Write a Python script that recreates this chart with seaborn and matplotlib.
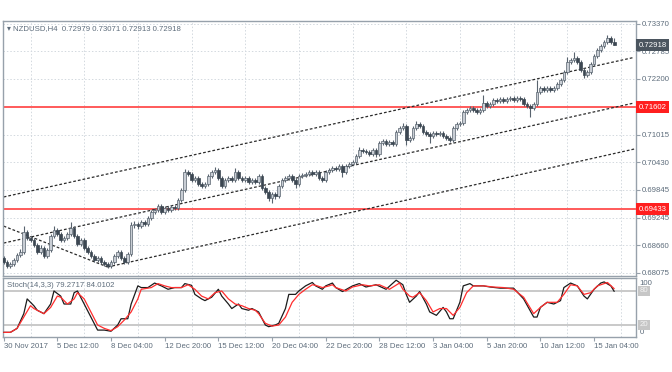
"""NZDUSD H4 candlestick chart with channel lines, key levels and Stoch(14,3,3)."""
import matplotlib
matplotlib.use("Agg")
import matplotlib.pyplot as plt
import matplotlib.transforms as mtransforms
import numpy as np
import pandas as pd
import seaborn as sns

# ---- candle data (H4 bars) ----
OPENS = [
    0.6839, 0.6831, 0.6822, 0.6826, 0.6835, 0.6846, 0.6852, 0.6895, 0.6882, 0.6877,
    0.6867, 0.6852, 0.6861, 0.6844, 0.6856, 0.6886, 0.6899, 0.6890, 0.6877, 0.6882,
    0.6890, 0.6903, 0.6886, 0.6869, 0.6877, 0.6861, 0.6852, 0.6844, 0.6835, 0.6839,
    0.6831, 0.6826, 0.6822, 0.6831, 0.6844, 0.6852, 0.6839, 0.6831, 0.6848, 0.6909,
    0.6912, 0.6907, 0.6916, 0.6912, 0.6924, 0.6937, 0.6941, 0.6950, 0.6937, 0.6946,
    0.6941, 0.6948, 0.6946, 0.6963, 0.6984, 0.7022, 0.7018, 0.7005, 0.7009, 0.6997,
    0.6992, 0.6997, 0.7014, 0.7022, 0.7026, 0.7009, 0.6992, 0.7005, 0.7009, 0.7005,
    0.7022, 0.7009, 0.7005, 0.7009, 0.7001, 0.7005, 0.7001, 0.7014, 0.6988, 0.6980,
    0.6967, 0.6975, 0.6971, 0.6992, 0.7005, 0.7009, 0.7014, 0.7005, 0.6997, 0.7014,
    0.7016, 0.7018, 0.7022, 0.7018, 0.7022, 0.7009, 0.7005, 0.7022, 0.7026, 0.7031,
    0.7029, 0.7035, 0.7022, 0.7035, 0.7040, 0.7044, 0.7056, 0.7069, 0.7067, 0.7065,
    0.7060, 0.7069, 0.7060, 0.7084, 0.7088, 0.7082, 0.7086, 0.7082, 0.7107, 0.7116,
    0.7120, 0.7090, 0.7094, 0.7116, 0.7124, 0.7120, 0.7107, 0.7103, 0.7098, 0.7105,
    0.7103, 0.7105, 0.7098, 0.7094, 0.7090, 0.7116, 0.7124, 0.7126, 0.7150, 0.7154,
    0.7158, 0.7154, 0.7150, 0.7154, 0.7169, 0.7163, 0.7167, 0.7175, 0.7173, 0.7177,
    0.7173, 0.7177, 0.7180, 0.7175, 0.7180, 0.7177, 0.7167, 0.7163, 0.7158, 0.7167,
    0.7192, 0.7201, 0.7197, 0.7201, 0.7197, 0.7201, 0.7209, 0.7218, 0.7235, 0.7256,
    0.7260, 0.7265, 0.7256, 0.7239, 0.7228, 0.7235, 0.7252, 0.7269, 0.7282, 0.7290,
    0.7299, 0.7307, 0.72979,
]
HIGHS = [
    0.6843, 0.6835, 0.6830, 0.6839, 0.6850, 0.6858, 0.6907, 0.6899, 0.6886, 0.6881,
    0.6871, 0.6866, 0.6865, 0.6860, 0.6890, 0.6907, 0.6903, 0.6894, 0.6886, 0.6894,
    0.6916, 0.6907, 0.6890, 0.6882, 0.6881, 0.6865, 0.6856, 0.6848, 0.6843, 0.6843,
    0.6835, 0.6830, 0.6835, 0.6848, 0.6856, 0.6856, 0.6843, 0.6852, 0.6916, 0.6918,
    0.6916, 0.6920, 0.6920, 0.6928, 0.6941, 0.6946, 0.6954, 0.6954, 0.6950, 0.6950,
    0.6952, 0.6952, 0.6967, 0.6988, 0.7029, 0.7026, 0.7022, 0.7014, 0.7013, 0.7001,
    0.7001, 0.7018, 0.7026, 0.7033, 0.7030, 0.7013, 0.7009, 0.7013, 0.7013, 0.7031,
    0.7026, 0.7013, 0.7013, 0.7013, 0.7009, 0.7009, 0.7018, 0.7018, 0.6992, 0.6984,
    0.6979, 0.6979, 0.6996, 0.7009, 0.7013, 0.7018, 0.7018, 0.7009, 0.7018, 0.7020,
    0.7022, 0.7026, 0.7026, 0.7026, 0.7026, 0.7013, 0.7026, 0.7030, 0.7035, 0.7035,
    0.7039, 0.7039, 0.7039, 0.7044, 0.7048, 0.7060, 0.7075, 0.7073, 0.7071, 0.7069,
    0.7073, 0.7073, 0.7088, 0.7092, 0.7092, 0.7090, 0.7090, 0.7111, 0.7120, 0.7126,
    0.7124, 0.7098, 0.7120, 0.7130, 0.7128, 0.7124, 0.7111, 0.7107, 0.7109, 0.7109,
    0.7109, 0.7109, 0.7102, 0.7098, 0.7120, 0.7128, 0.7130, 0.7154, 0.7158, 0.7162,
    0.7162, 0.7158, 0.7158, 0.7186, 0.7173, 0.7171, 0.7179, 0.7179, 0.7181, 0.7181,
    0.7181, 0.7184, 0.7184, 0.7184, 0.7184, 0.7181, 0.7171, 0.7167, 0.7171, 0.7218,
    0.7205, 0.7205, 0.7205, 0.7205, 0.7205, 0.7213, 0.7222, 0.7239, 0.7267, 0.7265,
    0.7277, 0.7269, 0.7260, 0.7243, 0.7239, 0.7256, 0.7273, 0.7286, 0.7294, 0.7303,
    0.7314, 0.7311, 0.73071,
]
LOWS = [
    0.6827, 0.6818, 0.6818, 0.6822, 0.6831, 0.6842, 0.6848, 0.6878, 0.6873, 0.6863,
    0.6848, 0.6848, 0.6839, 0.6840, 0.6852, 0.6882, 0.6886, 0.6873, 0.6873, 0.6878,
    0.6886, 0.6882, 0.6865, 0.6865, 0.6857, 0.6848, 0.6840, 0.6831, 0.6831, 0.6827,
    0.6822, 0.6818, 0.6818, 0.6827, 0.6840, 0.6835, 0.6827, 0.6827, 0.6844, 0.6903,
    0.6901, 0.6903, 0.6907, 0.6908, 0.6920, 0.6933, 0.6937, 0.6933, 0.6933, 0.6937,
    0.6937, 0.6941, 0.6942, 0.6959, 0.6980, 0.7014, 0.7001, 0.7001, 0.6992, 0.6988,
    0.6988, 0.6993, 0.7010, 0.7018, 0.7005, 0.6988, 0.6988, 0.7001, 0.7001, 0.7001,
    0.7005, 0.7001, 0.7001, 0.6997, 0.6997, 0.6997, 0.6997, 0.6984, 0.6975, 0.6960,
    0.6956, 0.6965, 0.6967, 0.6988, 0.7001, 0.7005, 0.7001, 0.6988, 0.6993, 0.7010,
    0.7012, 0.7014, 0.7014, 0.7014, 0.7005, 0.7001, 0.7001, 0.7018, 0.7022, 0.7025,
    0.7025, 0.7012, 0.7018, 0.7031, 0.7036, 0.7040, 0.7052, 0.7063, 0.7061, 0.7056,
    0.7056, 0.7054, 0.7056, 0.7080, 0.7078, 0.7078, 0.7078, 0.7078, 0.7103, 0.7112,
    0.7079, 0.7086, 0.7090, 0.7112, 0.7116, 0.7103, 0.7099, 0.7084, 0.7094, 0.7099,
    0.7099, 0.7094, 0.7090, 0.7086, 0.7086, 0.7112, 0.7120, 0.7122, 0.7146, 0.7150,
    0.7150, 0.7146, 0.7146, 0.7150, 0.7159, 0.7159, 0.7163, 0.7169, 0.7169, 0.7169,
    0.7169, 0.7173, 0.7171, 0.7171, 0.7173, 0.7163, 0.7159, 0.7139, 0.7154, 0.7163,
    0.7188, 0.7193, 0.7193, 0.7193, 0.7193, 0.7197, 0.7205, 0.7214, 0.7231, 0.7252,
    0.7256, 0.7252, 0.7235, 0.7222, 0.7224, 0.7231, 0.7248, 0.7265, 0.7278, 0.7286,
    0.7295, 0.7294, 0.72913,
]
CLOSES = [
    0.6831, 0.6822, 0.6826, 0.6835, 0.6846, 0.6852, 0.6895, 0.6882, 0.6877, 0.6867,
    0.6852, 0.6861, 0.6844, 0.6856, 0.6886, 0.6899, 0.6890, 0.6877, 0.6882, 0.6890,
    0.6903, 0.6886, 0.6869, 0.6877, 0.6861, 0.6852, 0.6844, 0.6835, 0.6839, 0.6831,
    0.6826, 0.6822, 0.6831, 0.6844, 0.6852, 0.6839, 0.6831, 0.6848, 0.6909, 0.6912,
    0.6907, 0.6916, 0.6912, 0.6924, 0.6937, 0.6941, 0.6950, 0.6937, 0.6946, 0.6941,
    0.6948, 0.6946, 0.6963, 0.6984, 0.7022, 0.7018, 0.7005, 0.7009, 0.6997, 0.6992,
    0.6997, 0.7014, 0.7022, 0.7026, 0.7009, 0.6992, 0.7005, 0.7009, 0.7005, 0.7022,
    0.7009, 0.7005, 0.7009, 0.7001, 0.7005, 0.7001, 0.7014, 0.6988, 0.6980, 0.6967,
    0.6975, 0.6971, 0.6992, 0.7005, 0.7009, 0.7014, 0.7005, 0.6997, 0.7014, 0.7016,
    0.7018, 0.7022, 0.7018, 0.7022, 0.7009, 0.7005, 0.7022, 0.7026, 0.7031, 0.7029,
    0.7035, 0.7022, 0.7035, 0.7040, 0.7044, 0.7056, 0.7069, 0.7067, 0.7065, 0.7060,
    0.7069, 0.7060, 0.7084, 0.7088, 0.7082, 0.7086, 0.7082, 0.7107, 0.7116, 0.7120,
    0.7090, 0.7094, 0.7116, 0.7124, 0.7120, 0.7107, 0.7103, 0.7098, 0.7105, 0.7103,
    0.7105, 0.7098, 0.7094, 0.7090, 0.7116, 0.7124, 0.7126, 0.7150, 0.7154, 0.7158,
    0.7154, 0.7150, 0.7154, 0.7169, 0.7163, 0.7167, 0.7175, 0.7173, 0.7177, 0.7173,
    0.7177, 0.7180, 0.7175, 0.7180, 0.7177, 0.7167, 0.7163, 0.7158, 0.7167, 0.7192,
    0.7201, 0.7197, 0.7201, 0.7197, 0.7201, 0.7209, 0.7218, 0.7235, 0.7256, 0.7260,
    0.7265, 0.7256, 0.7239, 0.7228, 0.7235, 0.7252, 0.7269, 0.7282, 0.7290, 0.7299,
    0.7307, 0.7298, 0.72918,
]

# ---- stochastic (14,3,3): %K (black) and %D (red) ----
K_BARS = [0, 2, 4, 6, 7, 9, 10, 12, 14, 15, 17, 18, 20, 21, 22, 24, 26, 28, 30, 32,
          34, 35, 37, 38, 40, 41, 43, 45, 47, 49, 51, 53, 54, 56, 57, 59, 60, 62, 64, 65,
          67, 68, 70, 71, 73, 74, 76, 78, 79, 81, 82, 84, 85, 87, 88, 90, 92, 93, 95, 96,
          98, 99, 101, 104, 106, 108, 111, 114, 117, 119, 120, 121, 123, 124, 126, 127,
          129, 131, 132, 133, 134, 136, 137, 139, 140, 143, 145, 148, 152, 155, 158, 159,
          160, 162, 164, 166, 167, 169, 171, 173, 174, 176, 178, 179, 181, 182]
K_VALUES = [7, 7, 14, 40, 66, 54, 46, 40, 57, 80, 71, 57, 57, 77, 80, 57, 34, 11, 11, 9,
            20, 31, 31, 57, 89, 86, 86, 94, 89, 83, 86, 86, 93, 90, 74, 66, 63, 69, 83, 71,
            57, 49, 57, 49, 46, 49, 43, 20, 17, 20, 23, 49, 74, 74, 80, 89, 95, 89, 83, 89,
            94, 86, 79, 89, 93, 87, 91, 83, 99, 91, 74, 60, 71, 79, 57, 43,
            37, 51, 43, 31, 31, 60, 89, 93, 89, 89, 87, 85, 85, 66, 34, 34,
            51, 60, 57, 63, 86, 94, 89, 71, 66, 83, 94, 96, 89, 79.2717]
D_BARS = [0, 2, 4, 6, 8, 9, 12, 14, 16, 17, 19, 21, 22, 24, 26, 28, 30, 32, 34, 36,
          38, 40, 41, 44, 46, 48, 50, 53, 55, 57, 59, 61, 63, 65, 67, 69, 71, 73, 75, 76,
          78, 80, 82, 84, 86, 88, 90, 92, 93, 95, 97, 98, 99, 102, 104, 107, 109, 112, 115,
          118, 119, 121, 122, 124, 126, 128, 130, 132, 134, 136, 138, 140, 143, 146, 149,
          152, 155, 158, 160, 162, 165, 167, 169, 171, 173, 175, 177, 180, 182]
D_VALUES = [7, 7, 14, 34, 54, 49, 40, 51, 71, 69, 57, 66, 77, 66, 43, 20, 14, 10, 17, 29,
            43, 66, 83, 86, 93, 89, 86, 86, 91, 83, 71, 66, 77, 80, 66, 57, 54, 49, 46, 40,
            23, 18, 20, 34, 60, 74, 83, 91, 90, 86, 89, 91, 86, 80, 87, 91, 89, 91, 83,
            94, 83, 71, 69, 77, 63, 43, 49, 49, 37, 51, 77, 89, 89, 87, 86,
            83, 69, 40, 51, 60, 60, 74, 91, 89, 74, 77, 89, 95, 84.0102]

# ---- axis labels and drawn objects ----
TIME_LABEL_BARS = [0, 16, 32, 48, 64, 80, 96, 112, 128, 144, 160, 176]
TIME_LABELS = ["30 Nov 2017", "5 Dec 12:00", "8 Dec 04:00", "12 Dec 20:00",
               "15 Dec 12:00", "20 Dec 04:00", "22 Dec 20:00", "28 Dec 12:00",
               "3 Jan 04:00", "5 Jan 20:00", "10 Jan 12:00", "15 Jan 04:00"]
PRICE_TICKS = [0.73370, 0.72785, 0.72200, 0.71015, 0.70430, 0.69845,
               0.69245, 0.68660, 0.68075]
KEY_LEVELS = [0.71602, 0.69433]
LAST_PRICE = 0.72918

# trend / channel lines as (bars, prices) anchor pairs
CHANNEL_UPPER = ([0, 188], [0.6969, 0.7266])
CHANNEL_MID = ([0, 188], [0.6871, 0.7169])
CHANNEL_LOWER = ([31, 188], [0.6820, 0.7071])
DOWN_LINE = ([0, 31], [0.6907, 0.6820])

TEXT = "#5d6c7b"
DARK = "#3c4752"
EDGE = "#58636e"
UP_FILL = "#c8cdd4"
GRID = "#d3d9df"
BORDER = "#97a1ab"
FS = 5.6

sns.set_theme(style="white")
plt.rcParams["font.family"] = ["Liberation Sans", "DejaVu Sans"]

fig = plt.figure(figsize=(6.72, 3.72), dpi=100)
ax = fig.add_axes([3 / 672, 1 - 276 / 372, 633 / 672, 255 / 372])
ax_st = fig.add_axes([3 / 672, 1 - 337 / 372, 633 / 672, 59 / 372], sharex=ax)

df = pd.DataFrame({"open": OPENS, "high": HIGHS, "low": LOWS, "close": CLOSES})
df["bar"] = np.arange(len(df))
up = df["close"] >= df["open"]
body_low = df[["open", "close"]].min(axis=1)
body_h = (df["close"] - df["open"]).abs().clip(lower=0.0001)

# grid
for b in range(8, 189, 16):
    ax.axvline(b, color=GRID, lw=0.7, ls=(0, (1.5, 2.0)), zorder=0)
    ax_st.axvline(b, color=GRID, lw=0.7, ls=(0, (1.5, 2.0)), zorder=0)
for p in PRICE_TICKS:
    ax.axhline(p, color=GRID, lw=0.7, ls=(0, (1.5, 2.0)), zorder=0)

# key levels
for lvl in KEY_LEVELS:
    ax.axhline(lvl, color="#ff4d4d", lw=1.3, zorder=1)

# channel lines
for xs, ys in (CHANNEL_UPPER, CHANNEL_MID, CHANNEL_LOWER, DOWN_LINE):
    ax.plot(xs, ys, color="#2b2b2b", lw=0.9, ls=(0, (2.2, 1.6)), zorder=2)

# candles
ax.vlines(df["bar"], df["low"], df["high"], color=EDGE, lw=0.8, zorder=3)
ax.bar(df["bar"][up], body_h[up], bottom=body_low[up], width=0.8,
       color=UP_FILL, edgecolor=EDGE, linewidth=0.5, zorder=4)
ax.bar(df["bar"][~up], body_h[~up], bottom=body_low[~up], width=0.8,
       color=DARK, edgecolor=DARK, linewidth=0.5, zorder=4)

ax.set_xlim(-0.2, 188.5)
ax.set_ylim(0.68009, 0.73433)
ax.yaxis.tick_right()
ax.set_yticks(PRICE_TICKS)
ax.set_yticklabels([f"{p:.5f}" for p in PRICE_TICKS])
ax.tick_params(axis="y", length=3, width=0.8, color=BORDER, labelsize=FS,
               labelcolor=TEXT, pad=1.5, left=False, right=True)
ax.tick_params(axis="x", bottom=False, labelbottom=False)
ax.set_xlabel("")
ax.set_ylabel("")

trans = mtransforms.blended_transform_factory(ax.transAxes, ax.transData)
for lvl in KEY_LEVELS:
    ax.text(1.004, lvl, f"{lvl:.5f}", transform=trans, ha="left", va="center",
            fontsize=FS, color="white", zorder=10, clip_on=False,
            bbox=dict(boxstyle="square,pad=0.3", fc="#ff1f1f", ec="none"))
ax.text(1.004, LAST_PRICE, f"{LAST_PRICE:.5f}", transform=trans, ha="left",
        va="center", fontsize=FS, color="white", zorder=10, clip_on=False,
        bbox=dict(boxstyle="square,pad=0.3", fc="#4b555f", ec="none"))

ax.text(0.006, 0.972, "\u25be NZDUSD,H4  0.72979 0.73071 0.72913 0.72918",
        transform=ax.transAxes, ha="left", va="center", fontsize=FS, color=TEXT)

# stochastic panel
ax_st.axhline(80, color="#c9c9c9", lw=1.4, zorder=1)
ax_st.axhline(20, color="#c9c9c9", lw=1.4, zorder=1)
sns.lineplot(x=K_BARS, y=K_VALUES, ax=ax_st, color="#1c1c1c", lw=0.9, zorder=3)
sns.lineplot(x=D_BARS, y=D_VALUES, ax=ax_st, color="#ff2d2d", lw=0.9, zorder=4)
ax_st.set_ylim(-1.2, 102.9)
ax_st.set_yticks([])
ax_st.set_ylabel("")

trans_st = mtransforms.blended_transform_factory(ax_st.transAxes, ax_st.transData)
ax_st.text(1.006, 100, "100", transform=trans_st, ha="left", va="top",
           fontsize=FS, color=TEXT, clip_on=False)
ax_st.text(1.006, 0, "0", transform=trans_st, ha="left", va="bottom",
           fontsize=FS, color=TEXT, clip_on=False)
for lvl in (80, 20):
    ax_st.text(1.006, lvl, str(lvl), transform=trans_st, ha="left", va="center",
               fontsize=FS, color="#f4f4f4", clip_on=False,
               bbox=dict(boxstyle="square,pad=0.2", fc="#c6c6c6", ec="none"))
ax_st.text(0.006, 0.87, "Stoch(14,3,3) 79.2717 84.0102", transform=ax_st.transAxes,
           ha="left", va="center", fontsize=FS, color=TEXT)

ax_st.set_xticks(TIME_LABEL_BARS)
ax_st.set_xticklabels(TIME_LABELS)
plt.setp(ax_st.get_xticklabels(), ha="left")
ax_st.tick_params(axis="x", bottom=True, length=3, width=0.8, color=BORDER,
                  labelsize=FS, labelcolor=TEXT, pad=1.5)

for a in (ax, ax_st):
    for spine in a.spines.values():
        spine.set_color(BORDER)
        spine.set_linewidth(1.0)

fig.savefig("out.png", dpi=100, facecolor="white")
